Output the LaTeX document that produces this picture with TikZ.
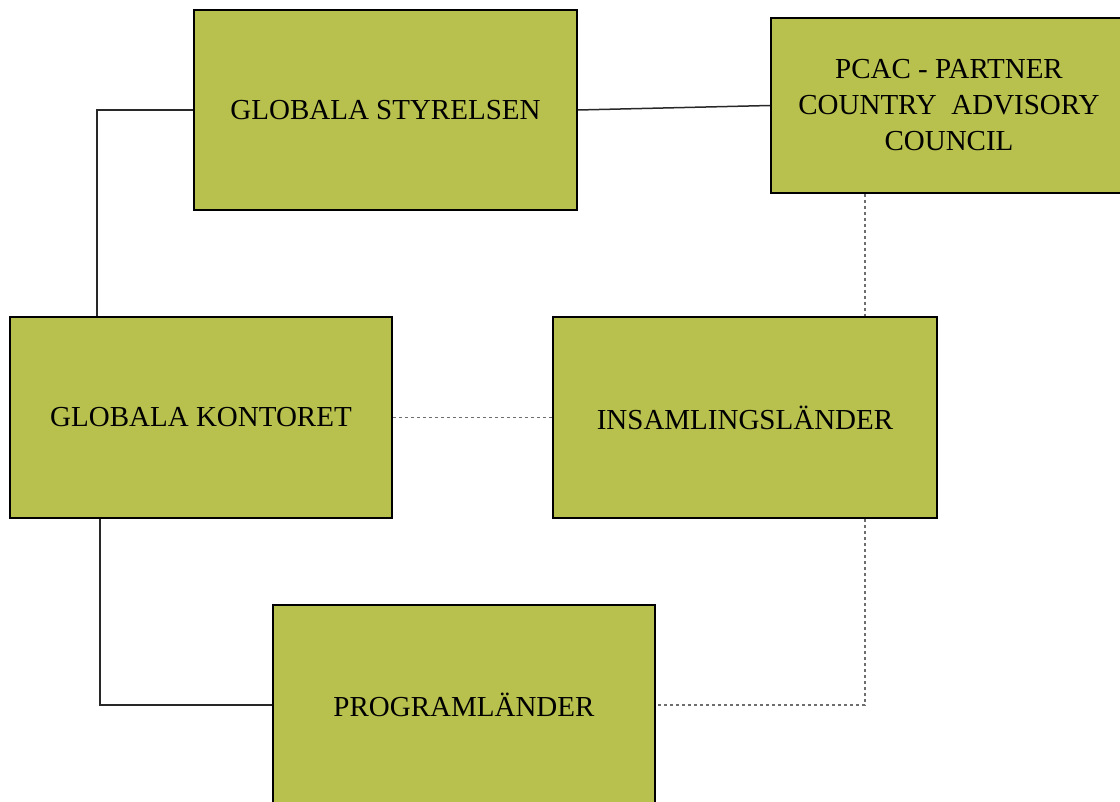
\documentclass[tikz,border=0pt]{standalone}
\usepackage{fontspec}
\setmainfont{Liberation Serif}

\begin{document}
\begin{tikzpicture}[
    x=1pt, y=-1pt, % 1 px = 1 pt, y nach unten
    box/.style={draw=black, line width=1.8pt, fill={rgb,255:red,184;green,192;blue,78},
        minimum width=383pt, minimum height=200pt, inner sep=0pt,
        align=center, font=\fontsize{29}{36}\selectfont},
    solidline/.style={draw={rgb,255:red,40;green,40;blue,40}, line width=1.5pt},
    dotline/.style={draw={rgb,255:red,110;green,110;blue,110}, line width=1.5pt,
        dash pattern=on 3pt off 3pt},
    ]

    % --- Rahmen ---
    \useasboundingbox (0,0) rectangle (1120,802);
    \clip (0,0) rectangle (1120,802);

    % --- Kaesten ---
    \node[box] (styrelsen) at (385.5,110) {GLOBALA STYRELSEN};
    \node[box, minimum width=356pt, minimum height=175pt] (pcac) at (949,105.5)
        {PCAC - PARTNER\\COUNTRY\ \ ADVISORY\\COUNCIL};
    \node[box, minimum width=382pt, minimum height=201pt] (kontoret) at (201,417.5) {GLOBALA KONTORET};
    \node[box, minimum width=384pt, minimum height=201pt] (insamling) at (745,417.5) {INSAMLINGSLÄNDER};
    \node[box, minimum width=382pt] (program) at (464,705) {PROGRAMLÄNDER};

    % --- Hilfspunkte fuer die Knicke ---
    \coordinate (k1) at (97,0);
    \coordinate (k2) at (100,0);
    \coordinate (i1) at (865,0);

    % --- durchgezogene Linien ---
    \draw[solidline] (styrelsen.west) -| (k1 |- kontoret.north);
    \draw[solidline] (styrelsen.east) -- (pcac.west);
    \draw[solidline] (k2 |- kontoret.south) |- (program.west);

    % --- gepunktete Linien ---
    \draw[dotline] (kontoret.east) -- (insamling.west);
    \draw[dotline] (i1 |- pcac.south) -- (i1 |- insamling.north);
    \draw[dotline] (i1 |- insamling.south) |- (program.east);

\end{tikzpicture}
\end{document}
